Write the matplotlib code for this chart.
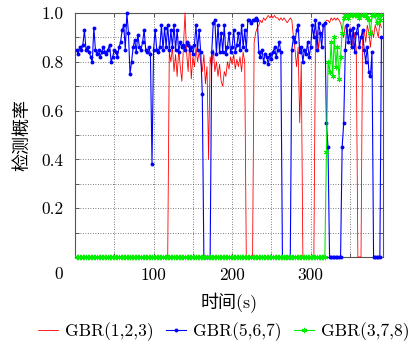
import numpy as np
import matplotlib
matplotlib.use('Agg')
import matplotlib.pyplot as plt

plt.rcParams['font.family'] = ['cmr10', 'Noto Sans CJK SC']
plt.rcParams['axes.formatter.use_mathtext'] = True
plt.rcParams['mathtext.fontset'] = 'cm'

# 采样时间 (s)
t = np.arange(2, 391, 2)

# GBR(1,2,3)
red_vals = ([0.0] * 59 +
            [0.84, 0.80, 0.86, 0.76, 0.83, 0.74, 0.85, 0.78, 0.72, 0.86,
             1.0, 0.84, 0.76, 0.88, 0.73, 0.82, 0.78, 0.86, 0.80, 0.84] +
            [0.80, 0.76, 0.83, 0.71, 0.78, 0.40, 0.82, 0.78, 0.85, 0.76,
             0.80, 0.74, 0.79, 0.72, 0.70, 0.76, 0.74, 0.80, 0.77, 0.82,
             0.79, 0.83, 0.77, 0.81, 0.78, 0.82, 0.76, 0.84, 0.80] +
            [0.0] * 5 +
            [0.88, 0.92, 0.94, 0.95, 0.97, 0.96, 0.98, 0.97, 0.98, 0.99,
             0.98, 0.99, 0.98, 0.99, 0.98, 0.98, 0.97, 0.98, 0.97, 0.98,
             0.97, 0.96, 0.97, 0.98, 0.97] +
            [0.90, 0.85, 0.78, 0.86, 0.55, 0.80] +
            [0.0] * 8 +
            [0.88, 0.93, 0.85, 0.92, 0.90, 0.94, 0.96, 0.97, 0.97, 0.96,
             0.98, 0.97, 0.98, 0.97, 0.98, 0.97, 0.96, 0.93, 0.90, 0.95,
             0.92, 0.88, 0.94, 0.90, 0.86, 0.92, 0.85] +
            [0.0] * 3 +
            [0.90, 0.93, 0.88, 0.95, 0.92, 0.86, 0.93, 0.90, 0.95, 0.93,
             0.90, 0.96, 0.94])

# GBR(5,6,7)
blue_vals = ([0.85, 0.83, 0.86, 0.85, 0.87, 0.93, 0.85, 0.86, 0.84, 0.82,
              0.80, 0.94, 0.85] +
             [0.83, 0.85, 0.82, 0.84, 0.86, 0.84, 0.83, 0.85, 0.87] +
             [0.80, 0.82, 0.85, 0.84, 0.82, 0.86, 0.88] +
             [0.93, 0.95, 0.85, 1.0, 0.92, 0.75, 0.80, 0.86, 0.89, 0.84,
              0.91, 0.86, 0.85, 0.88, 0.93, 0.85, 0.84, 0.86, 0.83, 0.38] +
             [0.85, 0.93, 0.85, 0.84, 0.86, 0.95, 0.85, 0.94, 0.86, 0.95,
              0.85, 0.93, 0.86, 0.95, 0.85, 0.93, 0.84, 0.88, 0.86, 0.87,
              0.85, 0.88, 0.87, 0.85, 0.86, 0.83, 0.87, 0.95, 0.85, 0.93,
              0.84, 0.67] +
             [0.0] * 5 +
             [0.84, 0.96, 0.97, 0.83, 0.95, 0.84, 0.92, 0.84, 0.95, 0.83,
              0.86, 0.92, 0.84] +
             [0.86, 0.93, 0.84, 0.87, 0.92, 0.85, 0.95, 0.86, 0.93, 0.85,
              0.97, 0.97, 0.96, 0.97, 0.97, 0.98, 0.97] +
             [0.84, 0.82, 0.85, 0.80, 0.83, 0.82, 0.79, 0.83, 0.81, 0.84,
              0.86, 0.82, 0.85, 0.88, 0.84] +
             [0.0] * 6 +
             [0.85, 0.90, 0.88, 0.93, 0.95, 0.84, 0.86, 0.80, 0.85, 0.83,
              0.88, 0.82, 0.86, 0.95, 0.90, 0.97, 0.85, 0.96, 0.92, 0.86,
              0.95, 0.96] +
             [0.55, 0.45] + [0.0] * 8 + [0.45, 0.55] +
             [0.85, 0.95, 0.88, 0.93, 0.86, 0.94, 0.84, 0.92, 0.95, 0.86,
              0.90, 0.93, 0.85, 0.80, 0.86, 0.76, 0.74, 0.84] +
             [0.0] * 5 + [0.90])

# GBR(3,7,8)
green_vals = ([0.0] * 159 +
              [0.43, 0.80, 0.76, 0.88, 0.74, 0.90, 0.78, 0.86, 0.73, 0.82,
               0.92] +
              [0.98, 0.99, 0.99, 0.98, 0.99, 0.99, 0.99, 0.99, 0.99, 0.99,
               0.98, 0.99, 0.99, 0.99, 0.99, 0.98, 0.97, 0.92, 0.99, 0.99,
               0.99, 0.96, 0.99, 0.97, 0.99])

labels = ['GBR(1,2,3)', 'GBR(5,6,7)', 'GBR(3,7,8)']

fig = plt.figure(figsize=(4.18, 3.41), dpi=100)
ax = fig.add_axes([75 / 418, 84 / 341, 308 / 418, 244 / 341])

ax.plot(t, red_vals, color='#ff0000', lw=0.6, label=labels[0], clip_on=False, zorder=3)
ax.plot(t, blue_vals, color='#0000ff', lw=0.8, marker='o', ms=2.8, mew=0,
        label=labels[1], clip_on=False, zorder=4)
ax.plot(t, green_vals, color='#00ee00', lw=0.8, marker=(6, 2, 0), ms=3.8, mew=0.7,
        label=labels[2], clip_on=False, zorder=5)

ax.set_xlim(0, 392)
ax.set_ylim(0, 1.0)

xt = np.arange(0, 351, 50)
ax.set_xticks(xt)
ax.set_xticklabels(['' if (v % 100 or v == 0) else str(v) for v in xt])
yt = np.round(np.arange(0, 1.01, 0.1), 1)
ax.set_yticks(yt)
ax.set_yticklabels(['%.1f' % v if (round(v * 10) % 2 == 0 and v > 0) else '' for v in yt])
ax.annotate('0', xy=(0, 0), xycoords=('data', 'axes fraction'),
            xytext=(-11.5, -12.5), textcoords='offset points',
            ha='center', va='center', fontsize=12.5)

ax.tick_params(direction='in', length=3, width=0.6, top=True, right=True,
               labelsize=12.5, pad=8, color='#444444')
ax.grid(True, linestyle=(0, (1, 2)), color='#555555', lw=0.6)
for s in ax.spines.values():
    s.set_color('#555555')
    s.set_linewidth(0.8)

ax.set_xlabel('时间(s)', fontsize=13, labelpad=7)
ax.set_ylabel('检测概率', fontsize=13, labelpad=8)

fig.legend(loc='lower center', bbox_to_anchor=(0.535, -0.01), ncol=3, frameon=False,
           fontsize=12.6, handlelength=1.15, handletextpad=0.4, columnspacing=0.7,
           borderaxespad=0, borderpad=0.2)

fig.savefig('out.png', dpi=100)
